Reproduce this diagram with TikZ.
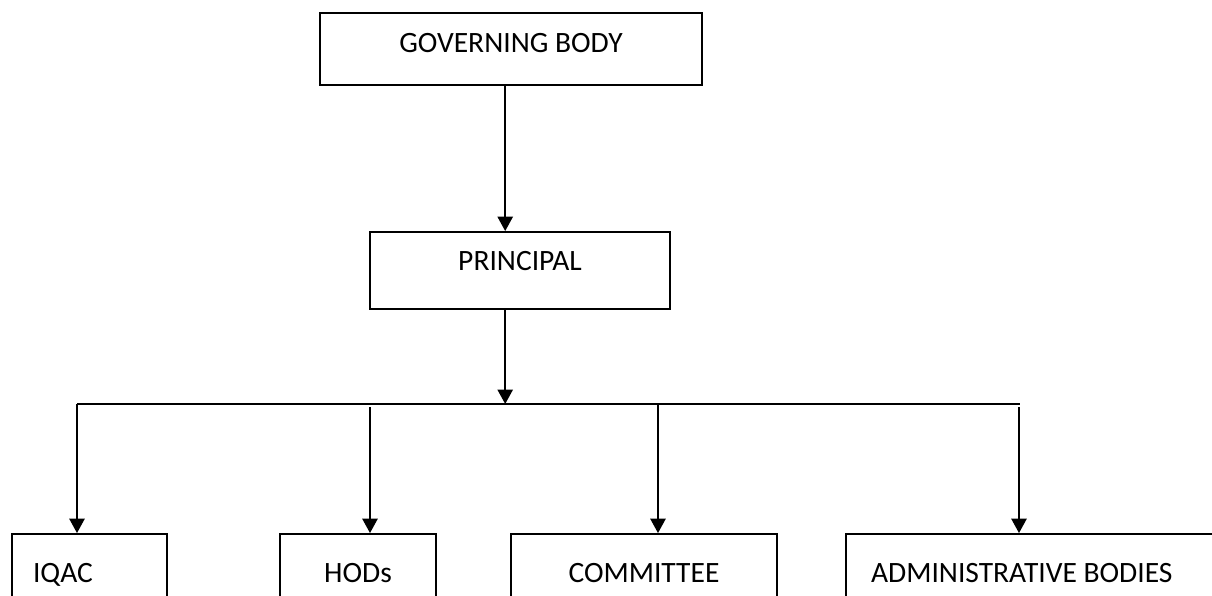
\documentclass[tikz,border=0pt]{standalone}
\usepackage{fontspec}
\setmainfont{Carlito}
\usetikzlibrary{positioning,calc,arrows.meta}

\begin{document}
\begin{tikzpicture}[
    box/.style={draw, line width=1.3pt, text height=0.5cm, text depth=0.5cm, font=\fontsize{21}{25}\selectfont},
    arr/.style={line width=1.4pt, -{Triangle[width=0.38cm,length=0.36cm]}}
]
    % Page
    \useasboundingbox (0,0) rectangle (30.3,14.9);
    \clip (0,0) rectangle (30.3,14.9);

    % Top boxes
    \node[box, minimum width=9.55cm, minimum height=1.8cm, text depth=0.325cm] (gov) at (12.775,13.675) {GOVERNING BODY};
    \node[box, minimum width=7.5cm, minimum height=1.925cm] (prin) at (13.0,8.1375) {PRINCIPAL};

    % Bottom boxes (cut by the page edge)
    \node[box, minimum width=3.875cm, minimum height=2.425cm, text width=2.825cm, inner xsep=0.525cm, align=flush left] (iqac) at (2.2375,0.3375) {IQAC};
    \node[box, minimum width=3.9cm, minimum height=2.425cm] (hods) at (8.95,0.3375) {HODs};
    \node[box, minimum width=6.65cm, minimum height=2.425cm] (comm) at (16.1,0.3375) {COMMITTEE};
    \node[box, minimum width=9.85cm, minimum height=2.425cm, text width=8.6cm, inner xsep=0.625cm, align=flush left] (admin) at (26.075,0.3375) {ADMINISTRATIVE BODIES};

    % Drop points
    \coordinate (dMain) at (12.63,4.8);
    \coordinate (busL) at (1.925,4.8);
    \coordinate (busR) at (25.5,4.8);
    \coordinate (dIqac) at (1.925,4.8);
    \coordinate (dHods) at (9.25,4.72);
    \coordinate (dComm) at (16.45,4.8);
    \coordinate (dAdmin) at (25.475,4.72);

    % Main stem
    \draw[arr] (gov.south -| dMain) -- (prin.north -| dMain);
    \draw[arr] (prin.south -| dMain) -- (dMain);

    % Bus line
    \draw[line width=1.4pt] (busL) -- (busR);

    % Branches
    \draw[arr] (dIqac) -- (dIqac |- iqac.north);
    \draw[arr] (dHods) -- (dHods |- hods.north);
    \draw[arr] (dComm) -- (dComm |- comm.north);
    \draw[arr] (dAdmin) -- (dAdmin |- admin.north);

\end{tikzpicture}
\end{document}
